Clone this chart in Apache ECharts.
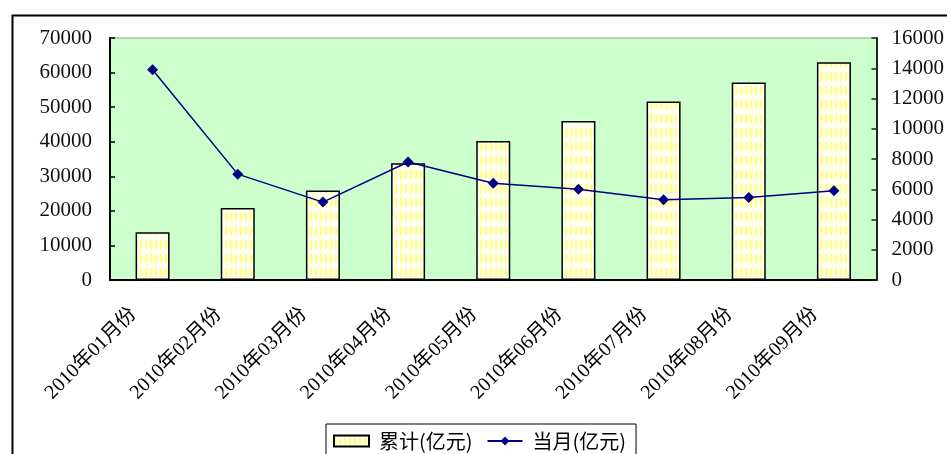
<!DOCTYPE html>
<html>
<head>
<meta charset="utf-8">
<script src="https://cdn.jsdelivr.net/npm/echarts@6/dist/echarts.min.js"></script>
<style>
  html, body { margin: 0; padding: 0; background: #fff; }
  #chart { width: 947px; height: 454px; }
</style>
</head>
<body>
<div id="chart"></div>
<script>
// Months of 2010
const months = ['2010年01月份', '2010年02月份', '2010年03月份', '2010年04月份', '2010年05月份',
                '2010年06月份', '2010年07月份', '2010年08月份', '2010年09月份'];
// Cumulative total (亿元), left axis
const cumulative = [13800, 20800, 25900, 33800, 40200, 46000, 51600, 57100, 63000];
// Monthly value (亿元), right axis
const monthly = [13900, 7000, 5150, 7800, 6400, 6000, 5300, 5450, 5900];
const leftTicks = { min: 0, max: 70000, interval: 10000 };
const rightTicks = { min: 0, max: 16000, interval: 2000 };

// Striped pale-yellow fill for the bars
function makeStripePattern() {
  const c = document.createElement('canvas');
  c.width = 5; c.height = 14;
  const g = c.getContext('2d');
  g.fillStyle = '#fffff0';
  g.fillRect(0, 0, 5, 14);
  g.fillStyle = '#ffff88';
  g.fillRect(0, 2, 2, 9);
  g.fillStyle = '#ffffbb';
  g.fillRect(2, 4, 1, 5);
  return c;
}
const stripe = { image: makeStripePattern(), repeat: 'repeat' };

const serif = '"Liberation Serif", "Noto Sans CJK SC", serif';
const plain = v => String(v);
const chart = echarts.init(document.getElementById('chart'), null, { renderer: 'canvas' });
chart.setOption({
  animation: false,
  backgroundColor: '#fff',
  graphic: [{
    type: 'rect',
    left: 10, top: 13,
    shape: { width: 1000, height: 1000 },
    style: { fill: 'none', stroke: '#000', lineWidth: 2 },
    silent: true, z: -1
  }],
  grid: {
    left: 110, right: 64, top: 38, bottom: 174,
    show: true, backgroundColor: '#ccffcc', borderColor: '#999', borderWidth: 1
  },
  legend: {
    left: 326, top: 424,
    padding: [7, 10, 20, 7],
    borderColor: '#000', borderWidth: 1,
    itemWidth: 35, itemHeight: 11, itemGap: 14,
    textStyle: { fontFamily: '"Noto Sans CJK SC", sans-serif', fontSize: 20, color: '#000', padding: [0, 0, 0, 5] },
    data: [
      { name: '累计(亿元)', icon: 'rect' },
      { name: '当月(亿元)' }
    ]
  },
  xAxis: {
    type: 'category',
    data: months,
    axisLine: { lineStyle: { color: '#000', width: 2 } },
    axisTick: { inside: true, length: 6, lineStyle: { color: '#000', width: 1.5 } },
    axisLabel: {
      rotate: 45, margin: 12, interval: 0,
      fontFamily: serif, fontSize: 20, color: '#000',
      padding: [0, 27, 0, 0]
    }
  },
  yAxis: [{
    type: 'value',
    min: leftTicks.min, max: leftTicks.max, interval: leftTicks.interval,
    axisLine: { show: true, lineStyle: { color: '#000', width: 2 } },
    axisTick: { show: true, inside: true, length: 5, lineStyle: { color: '#000', width: 1.5 } },
    axisLabel: { margin: 18, fontFamily: serif, fontSize: 21, color: '#111', formatter: plain },
    splitLine: { show: false }
  }, {
    type: 'value',
    min: rightTicks.min, max: rightTicks.max, interval: rightTicks.interval,
    axisLine: { show: true, lineStyle: { color: '#222', width: 2 } },
    axisTick: { show: true, inside: true, length: 5, lineStyle: { color: '#222', width: 1.5 } },
    axisLabel: { margin: 15, fontFamily: serif, fontSize: 21, color: '#111', formatter: plain },
    splitLine: { show: false }
  }],
  series: [{
    name: '累计(亿元)',
    type: 'bar',
    yAxisIndex: 0,
    data: cumulative,
    barWidth: 34,
    itemStyle: { color: stripe, borderColor: '#000', borderWidth: 1.5 }
  }, {
    name: '当月(亿元)',
    type: 'line',
    yAxisIndex: 1,
    data: monthly,
    symbol: 'diamond',
    symbolSize: 11,
    lineStyle: { color: '#000080', width: 1.5 },
    itemStyle: { color: '#000080' }
  }]
});
</script>
</body>
</html>
